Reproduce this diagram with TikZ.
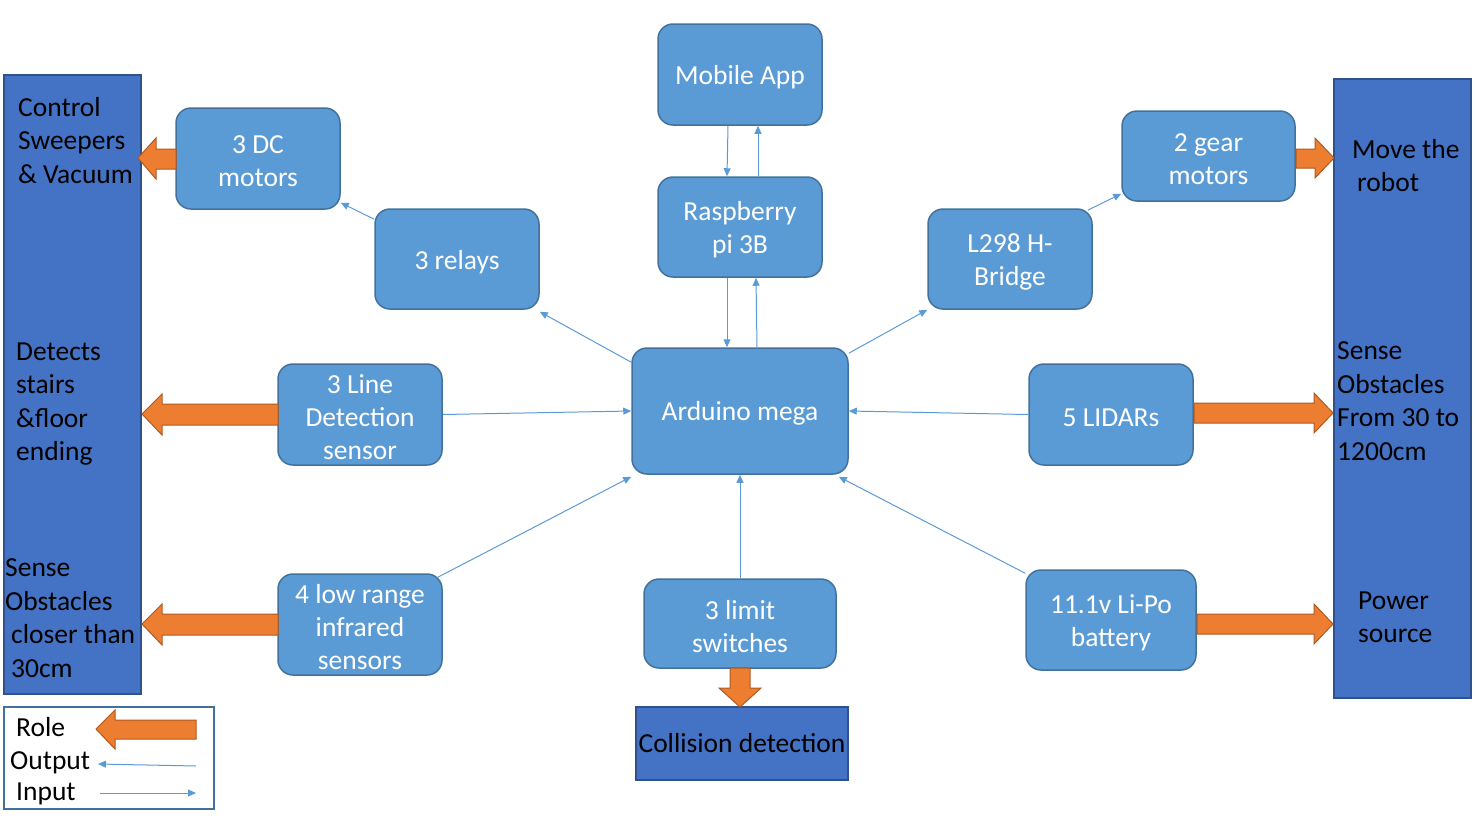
\documentclass[tikz,border=0pt]{standalone}
\usepackage{fontspec}
\setmainfont{Carlito}
\usetikzlibrary{arrows.meta}
\definecolor{boxfill}{HTML}{5B9BD5}
\definecolor{boxline}{HTML}{41719C}
\definecolor{barfill}{HTML}{4472C4}
\definecolor{barline}{HTML}{2F528F}
\definecolor{orfill}{HTML}{ED7D31}
\definecolor{orline}{HTML}{AE5A21}
\tikzset{
  box/.style={draw=boxline, line width=1.5pt, fill=boxfill, rounded corners=15pt, inner sep=0pt},
  btext/.style={text=white, align=center, font=\fontsize{27.5}{33}\selectfont, inner sep=0pt, yshift=-2.8pt},
  bt/.style={label={[btext]center:{#1}}},
  bar/.style={draw=barline, line width=1.5pt, fill=barfill, inner sep=0pt},
  lbl/.style={text=black, align=left, anchor=west, font=\fontsize{27.5}{33.5}\selectfont, inner sep=0pt},
  conn/.style={draw=boxfill, line width=1pt, -{Triangle[length=8pt,width=7pt]}},
  role/.style={fill=orfill, draw=orline, line width=1pt},
}
\begin{document}
\begin{tikzpicture}[x=1pt,y=-1pt]
\useasboundingbox (0,0) rectangle (1476,815);
% side bars
\node[bar, minimum width=137pt, minimum height=619pt] (leftbar) at (72.5,384.5) {};
\node[bar, minimum width=137pt, minimum height=619pt] (rightbar) at (1402.5,388.5) {};
% boxes
\node[box, minimum width=164pt, minimum height=101pt, bt={Mobile App}] (mobile) at (740,74.5) {};
\node[box, minimum width=164pt, minimum height=100pt, bt={Raspberry\\pi 3B}] (rasp) at (740,227) {};
\node[box, minimum width=216pt, minimum height=126pt, bt={Arduino mega}] (ard) at (740,411) {};
\node[box, minimum width=164pt, minimum height=101pt, bt={3 DC\\motors}] (dc) at (258,158.5) {};
\node[box, minimum width=164pt, minimum height=100pt, bt={3 relays}] (relays) at (457,259) {};
\node[box, minimum width=164pt, minimum height=101pt, bt={3 Line\\Detection\\sensor}] (line) at (360,414.5) {};
\node[box, minimum width=164pt, minimum height=101pt, bt={4 low range\\infrared\\sensors}] (ir) at (360,624.5) {};
\node[box, minimum width=192pt, minimum height=89pt, bt={3 limit\\switches}] (limit) at (740,623.5) {};
\node[bar, minimum width=212pt, minimum height=73pt, font=\fontsize{27.5}{33}\selectfont] (coll) at (742,743.5) {Collision detection};
\node[box, minimum width=170pt, minimum height=100pt, bt={11.1v Li-Po\\battery}] (batt) at (1111,620) {};
\node[box, minimum width=164pt, minimum height=101pt, bt={5 LIDARs}] (lidar) at (1111,414.5) {};
\node[box, minimum width=164pt, minimum height=100pt, bt={L298 H-\\Bridge}] (l298) at (1010,259) {};
\node[box, minimum width=173pt, minimum height=90pt, bt={2 gear\\motors}] (gear) at (1208.5,156) {};
% bar labels
\node[lbl] (t1) at (18,140.5) {Control\\Sweepers\\\& Vacuum};
\node[lbl] (t2) at (16,404) {Detects\\stairs\\\&floor\\ending};
\node[lbl] (t3) at (5,618) {Sense\\Obstacles\\\hspace*{6pt}closer than\\\hspace*{6pt}30cm};
\node[lbl] (t4) at (1352,165.5) {Move the\\\hspace*{5pt}robot};
\node[lbl] (t5) at (1337,401) {Sense\\Obstacles\\From 30 to\\1200cm};
\node[lbl] (t6) at (1358,617.5) {Power\\source};
% thin connectors
\draw[conn] ([xshift=-12pt]mobile.south) -- ([xshift=-13pt]rasp.north);
\draw[conn] ([xshift=18pt]rasp.north) -- ([xshift=18pt]mobile.south);
\draw[conn] ([xshift=-13pt]rasp.south) -- ([xshift=-13pt]ard.north);
\draw[conn] ([xshift=17pt]ard.north) -- ([xshift=16pt]rasp.south);
\draw[conn] ([yshift=-15pt]ard.north west) -- ([yshift=-2pt]relays.south east);
\draw[conn] ([yshift=-11pt]relays.north west) -- ([yshift=7pt]dc.south east);
\draw[conn] (line.east) -- (ard.west);
\draw[conn] ([xshift=-5pt,yshift=-4pt]ir.north east) -- ([yshift=-2pt]ard.south west);
\draw[conn] (limit.north) -- (ard.south);
\draw[conn] ([yshift=-4pt]batt.north west) -- ([xshift=-10pt,yshift=-2pt]ard.south east);
\draw[conn] (lidar.west) -- (ard.east);
\draw[conn] ([yshift=-6pt]ard.north east) -- (l298.south west);
\draw[conn] ([xshift=-5pt,yshift=-2pt]l298.north east) -- ([yshift=8pt]gear.south west);
% role arrows
\draw[role] (176,149) -- (156,149) -- (156,138) -- (138,158) -- (156,179) -- (156,169) -- (176,169) -- cycle;
\draw[role] (278,404) -- (162,404) -- (162,394) -- (142,414) -- (162,435) -- (162,425) -- (278,425) -- cycle;
\draw[role] (278,614) -- (162,614) -- (162,604) -- (142,624) -- (162,645) -- (162,635) -- (278,635) -- cycle;
\draw[role] (1296,149) -- (1315,149) -- (1315,138) -- (1334,158) -- (1315,178) -- (1315,168) -- (1296,168) -- cycle;
\draw[role] (1194,403) -- (1314,403) -- (1314,393) -- (1333,413) -- (1314,433) -- (1314,423) -- (1194,423) -- cycle;
\draw[role] (1197,614) -- (1314,614) -- (1314,604) -- (1333,624) -- (1314,644) -- (1314,634) -- (1197,634) -- cycle;
\draw[role] (730,668) -- (730,688) -- (719,688) -- (740,707) -- (761,688) -- (750,688) -- (750,668) -- cycle;
% legend
\node[draw=boxline, line width=1.5pt, minimum width=210pt, minimum height=102pt, inner sep=0pt] (legend) at (109,758) {};
\node[lbl] (lrole) at (16,727) {Role};
\node[lbl] (lout) at (10,763) {Output};
\node[lbl] (lin) at (16,793.5) {Input};
\draw[role] (196,720) -- (115,720) -- (115,710) -- (96,729) -- (115,749) -- (115,739) -- (196,739) -- cycle;
\coordinate (oa) at (196,766);
\coordinate (ob) at (98,764);
\coordinate (ia) at (100,793);
\coordinate (ib) at (196,793);
\draw[conn] (oa) -- (ob);
\draw[conn] (ia) -- (ib);
\end{tikzpicture}
\end{document}
